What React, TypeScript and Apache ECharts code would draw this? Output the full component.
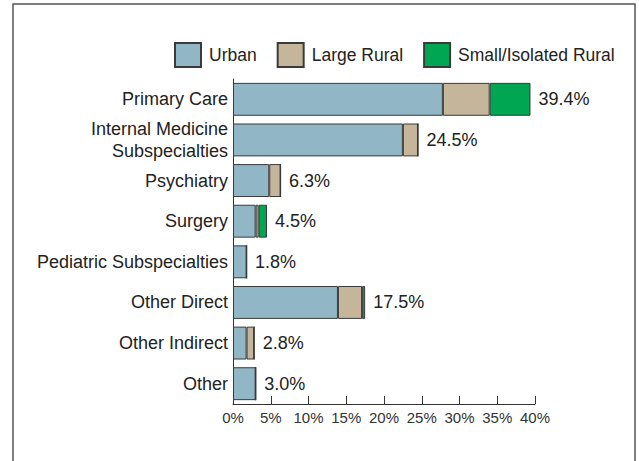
import React, { useEffect, useRef } from "react";
import * as echarts from "echarts";

const categories = [
  "Primary Care",
  "Internal Medicine\nSubspecialties",
  "Psychiatry",
  "Surgery",
  "Pediatric Subspecialties",
  "Other Direct",
  "Other Indirect",
  "Other",
];
const urban = [27.8, 22.5, 4.8, 3.0, 1.8, 13.9, 1.8, 3.0];
const largeRural = [6.2, 2.0, 1.5, 0.4, 0, 3.2, 1.0, 0];
const smallRural = [5.4, 0, 0, 1.1, 0, 0.4, 0, 0];
const totals = ["39.4%", "24.5%", "6.3%", "4.5%", "1.8%", "17.5%", "2.8%", "3.0%"];
const tickValues = [0, 5, 10, 15, 20, 25, 30, 35, 40];

const FONT = "Liberation Sans, Arial, sans-serif";

export default function App() {
  const ref = useRef<HTMLDivElement>(null);
  useEffect(() => {
    if (!ref.current) return;
    const chart = echarts.init(ref.current, null, { renderer: "svg" });
    const border = { borderColor: "#3a3a3a", borderWidth: 1 };
    chart.setOption({
      animation: false,
      backgroundColor: "#ffffff",
      textStyle: { fontFamily: FONT },
      graphic: [
        {
          type: "rect",
          shape: { x: 13, y: 4, width: 622, height: 520 },
          style: { fill: "none", stroke: "#555555", lineWidth: 1.5 },
          silent: true,
        },
      ],
      legend: {
        left: 174,
        top: 42,
        padding: 0,
        icon: "rect",
        itemWidth: 26,
        itemHeight: 24,
        itemGap: 20,
        textStyle: { fontSize: 17.5, color: "#222", fontFamily: FONT, padding: [0, 0, 0, 3] },
        data: ["Urban", "Large Rural", "Small/Isolated Rural"],
      },
      grid: { left: 233, right: 104, top: 79, bottom: 57, containLabel: false },
      xAxis: {
        type: "value",
        min: tickValues[0],
        max: tickValues[tickValues.length - 1],
        interval: 5,
        splitLine: { show: false },
        axisLine: { show: true, lineStyle: { color: "#333", width: 1 } },
        axisTick: { show: true, inside: true, length: 8, lineStyle: { color: "#333" } },
        axisLabel: {
          color: "#333",
          fontSize: 15,
          fontFamily: FONT,
          margin: 6,
          formatter: (v: number) => v + "%",
        },
      },
      yAxis: {
        type: "category",
        inverse: true,
        data: categories,
        axisLine: { show: true, lineStyle: { color: "#333", width: 1 } },
        axisTick: { show: false },
        axisLabel: {
          color: "#222",
          fontSize: 18,
          fontFamily: FONT,
          margin: 5,
          lineHeight: 22,
          align: "right",
        },
      },
      series: [
        {
          name: "Urban",
          type: "bar",
          stack: "t",
          barCategoryGap: "19%",
          data: urban,
          itemStyle: { color: "#91b6c6", ...border },
        },
        {
          name: "Large Rural",
          type: "bar",
          stack: "t",
          data: largeRural,
          itemStyle: { color: "#c5b59b", ...border },
        },
        {
          name: "Small/Isolated Rural",
          type: "bar",
          stack: "t",
          data: smallRural,
          itemStyle: { color: "#00a651", ...border },
          label: {
            show: true,
            position: "right",
            distance: 8,
            color: "#222",
            fontSize: 18,
            fontFamily: FONT,
            formatter: (p: any) => totals[p.dataIndex],
          },
        },
      ],
    });
    return () => chart.dispose();
  }, []);
  return (
    <div
      ref={ref}
      style={{ position: "fixed", left: 0, top: 0, width: 639, height: 461 }}
    />
  );
}
